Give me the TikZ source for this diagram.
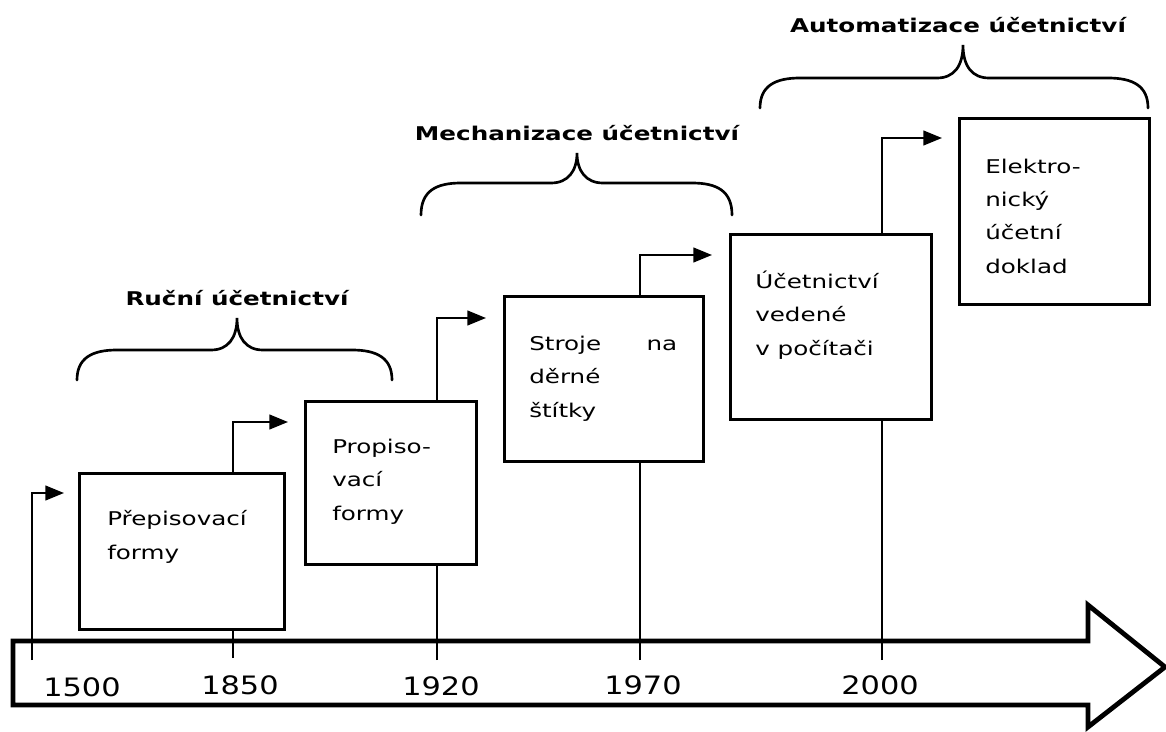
\documentclass[tikz,border=0pt]{standalone}
\usepackage{fontspec}
\setmainfont{DejaVu Sans}
\newfontfamily\bodyfont[FakeStretch=1.3]{DejaVu Sans}
\newfontfamily\yearfont[FakeStretch=1.2]{DejaVu Sans}
\usetikzlibrary{arrows.meta}
\newcommand{\mybrace}[6]{%
  \draw[brc] (#1,#4) .. controls (#1,#5+8) and (#1+15,#5) .. (#1+40,#5)
    -- (#3-26,#5) .. controls (#3-9,#5) and (#3,#5-12) .. (#3,#6)
    .. controls (#3,#5-12) and (#3+9,#5) .. (#3+26,#5)
    -- (#2-40,#5) .. controls (#2-15,#5) and (#2,#5+8) .. (#2,#4);}
\tikzset{
  boxx/.style={draw, line width=2.1pt, inner sep=0pt, anchor=north west},
  txt/.style={inner sep=0pt, anchor=base west, align=left,
    font=\bodyfont\fontsize{14.2pt}{25pt}\selectfont, text=black},
  head/.style={inner sep=0pt, font=\bodyfont\bfseries\fontsize{14.2pt}{16pt}\selectfont, text=black},
  yr/.style={inner sep=0pt, font=\yearfont\fontsize{19pt}{21pt}\selectfont, text=black},
  tick/.style={line width=1.7pt},
  tickarr/.style={line width=1.7pt, -{Triangle[length=14pt,width=11pt]}},
  brc/.style={line width=2pt, line cap=round},
  timeline/.style={line width=3.6pt, line join=miter}
}
\begin{document}
\begin{tikzpicture}[x=0.75pt, y=-0.75pt]
\useasboundingbox[fill=white] (0,0) rectangle (1166,731);

% timeline arrow
\draw[timeline] (13,641) -- (1088,641) -- (1088,605) -- (1165,667) -- (1088,727) -- (1088,705) -- (13,705) -- cycle;

% boxes
\node[boxx, minimum width=153.75pt, minimum height=117pt] (b1) at (78,472) {};
\node[boxx, minimum width=128.25pt, minimum height=122.25pt] (b2) at (304,400) {};
\node[boxx, minimum width=149.25pt, minimum height=123.75pt] (b3) at (503,295) {};
\node[boxx, minimum width=150.75pt, minimum height=138.75pt] (b4) at (729,233) {};
\node[boxx, minimum width=142.5pt, minimum height=139.5pt] (b5) at (958,117) {};

% box texts (anchored at the baseline of the last line)
\node[txt] (t1) at (107,559) {Přepisovací\\formy};
\node[txt] (t2) at (332,520) {Propiso-\\vací\\formy};
\node[txt] (t3) at (529,417) {\makebox[111pt][s]{Stroje\hfill na}\\děrné\\štítky};
\node[txt] (t4) at (755,355) {Účetnictví\\vedené\\v počítači};
\node[txt] (t5) at (985,273) {Elektro-\\nický\\účetní\\doklad};

% tick coordinates on the timeline
\coordinate (y1500) at (32,660);
\coordinate (y1850) at (233,658);
\coordinate (y1920) at (437,660);
\coordinate (y1970) at (640,660);
\coordinate (y2000) at (882,660);
% arrow ends
\coordinate (e1500) at (64,493);
\coordinate (e1850) at (288,422);
\coordinate (e1920) at (486,318);
\coordinate (e1970) at (712,255);
\coordinate (e2000) at (942,138);

\draw[tickarr] (y1500) |- (e1500);
\draw[tick] (y1850) -- (b1.south -| y1850);
\draw[tickarr] (b1.north -| y1850) |- (e1850);
\draw[tick] (y1920) -- (b2.south -| y1920);
\draw[tickarr] (b2.north -| y1920) |- (e1920);
\draw[tick] (y1970) -- (b3.south -| y1970);
\draw[tickarr] (b3.north -| y1970) |- (e1970);
\draw[tick] (y2000) -- (b4.south -| y2000);
\draw[tickarr] (b4.north -| y2000) |- (e2000);

% year labels
\node[yr] (l1500) at (82,687) {1500};
\node[yr] (l1850) at (240,685) {1850};
\node[yr] (l1920) at (441,686) {1920};
\node[yr] (l1970) at (643,685) {1970};
\node[yr] (l2000) at (880,685) {2000};

% braces and headings
\mybrace{77}{392}{237}{380}{350}{318}
\mybrace{421}{732}{577}{215}{183}{153}
\mybrace{760}{1148}{963}{108}{78}{45}
\node[head] (h1) at (237,298) {Ruční účetnictví};
\node[head] (h2) at (577,133) {Mechanizace účetnictví};
\node[head] (h3) at (958,25) {Automatizace účetnictví};
\end{tikzpicture}
\end{document}
